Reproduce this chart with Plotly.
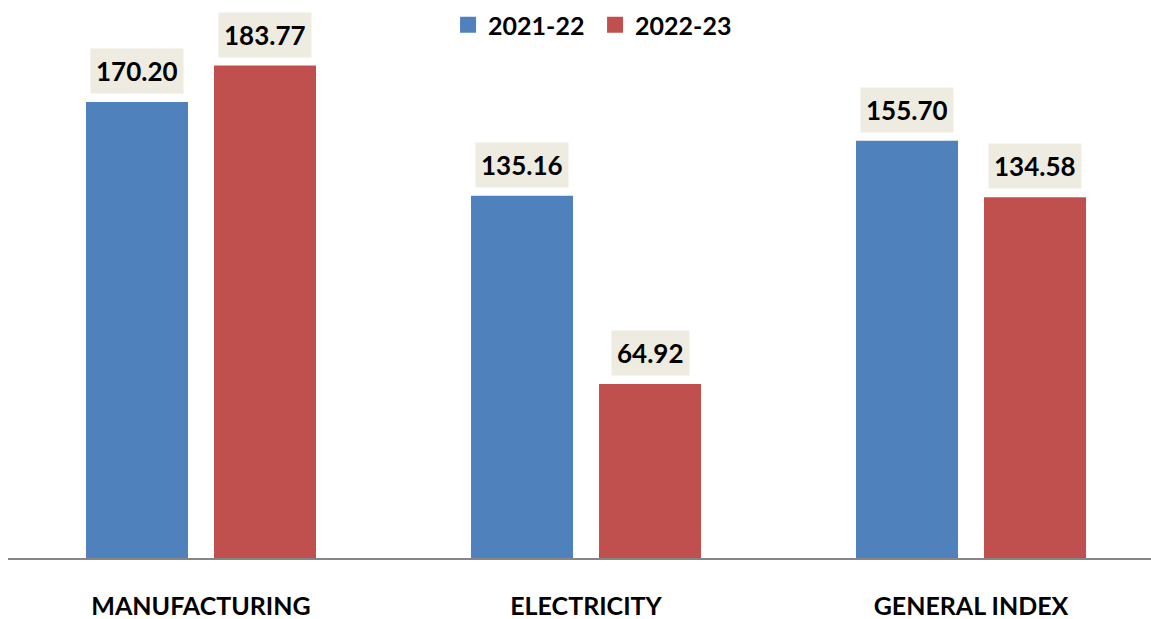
import plotly.graph_objects as go

categories = ["MANUFACTURING", "ELECTRICITY", "GENERAL INDEX"]
series_names = ["2021-22", "2022-23"]
values_2021_22 = [170.20, 135.16, 155.70]
values_2022_23 = [183.77, 64.92, 134.58]
colors = ["#4F81BD", "#C0504D"]

FONT = "Lato"
series_values = [values_2021_22, values_2022_23]

fig = go.Figure()
for name, vals, col in zip(series_names, series_values, colors):
    fig.add_trace(go.Bar(x=categories, y=vals, name=name, marker=dict(color=col, line=dict(width=0)),
                         showlegend=False))
    # legend proxy with square marker
    fig.add_trace(go.Scatter(x=[None], y=[None], mode="markers", name=name,
                             marker=dict(symbol="square", size=16, color=col)))

offsets = [-64, 64]
for k, vals in enumerate(series_values):
    for cat, v in zip(categories, vals):
        fig.add_annotation(x=cat, y=v, xref="x", yref="y", text=f"{v:.2f}",
                           showarrow=False, xshift=offsets[k], yshift=8, yanchor="bottom",
                           bgcolor="#EEECE1", borderpad=5, height=34, valign="middle",
                           font=dict(family=FONT, size=26, color="#000000", weight="bold"))

fig.update_layout(
    width=1151, height=619,
    margin=dict(l=8, r=0, t=10, b=61, autoexpand=False),
    paper_bgcolor="white", plot_bgcolor="white",
    barmode="group", bargap=0.335, bargroupgap=0.203,
    font=dict(family=FONT, color="#000000"),
    legend=dict(orientation="h", x=0.385, xanchor="left", y=1 - 25 / 619, yref="container",
                yanchor="middle", entrywidth=102,
                font=dict(family=FONT, size=25, color="#000000", weight="bold"), itemsizing="trace",
                bgcolor="rgba(0,0,0,0)", traceorder="normal"),
    xaxis=dict(range=[-0.5013, 2.4675], showline=True, linecolor="#868686", linewidth=2,
               ticks="", ticklabelstandoff=25, showgrid=False, zeroline=False,
               tickfont=dict(family=FONT, size=25, color="#000000", weight="bold")),
    yaxis=dict(range=[0, 204.5], visible=False, showgrid=False, zeroline=False),
)

fig.write_html("out.html", config={"displayModeBar": False},
               post_script="document.body.style.margin='0';")
